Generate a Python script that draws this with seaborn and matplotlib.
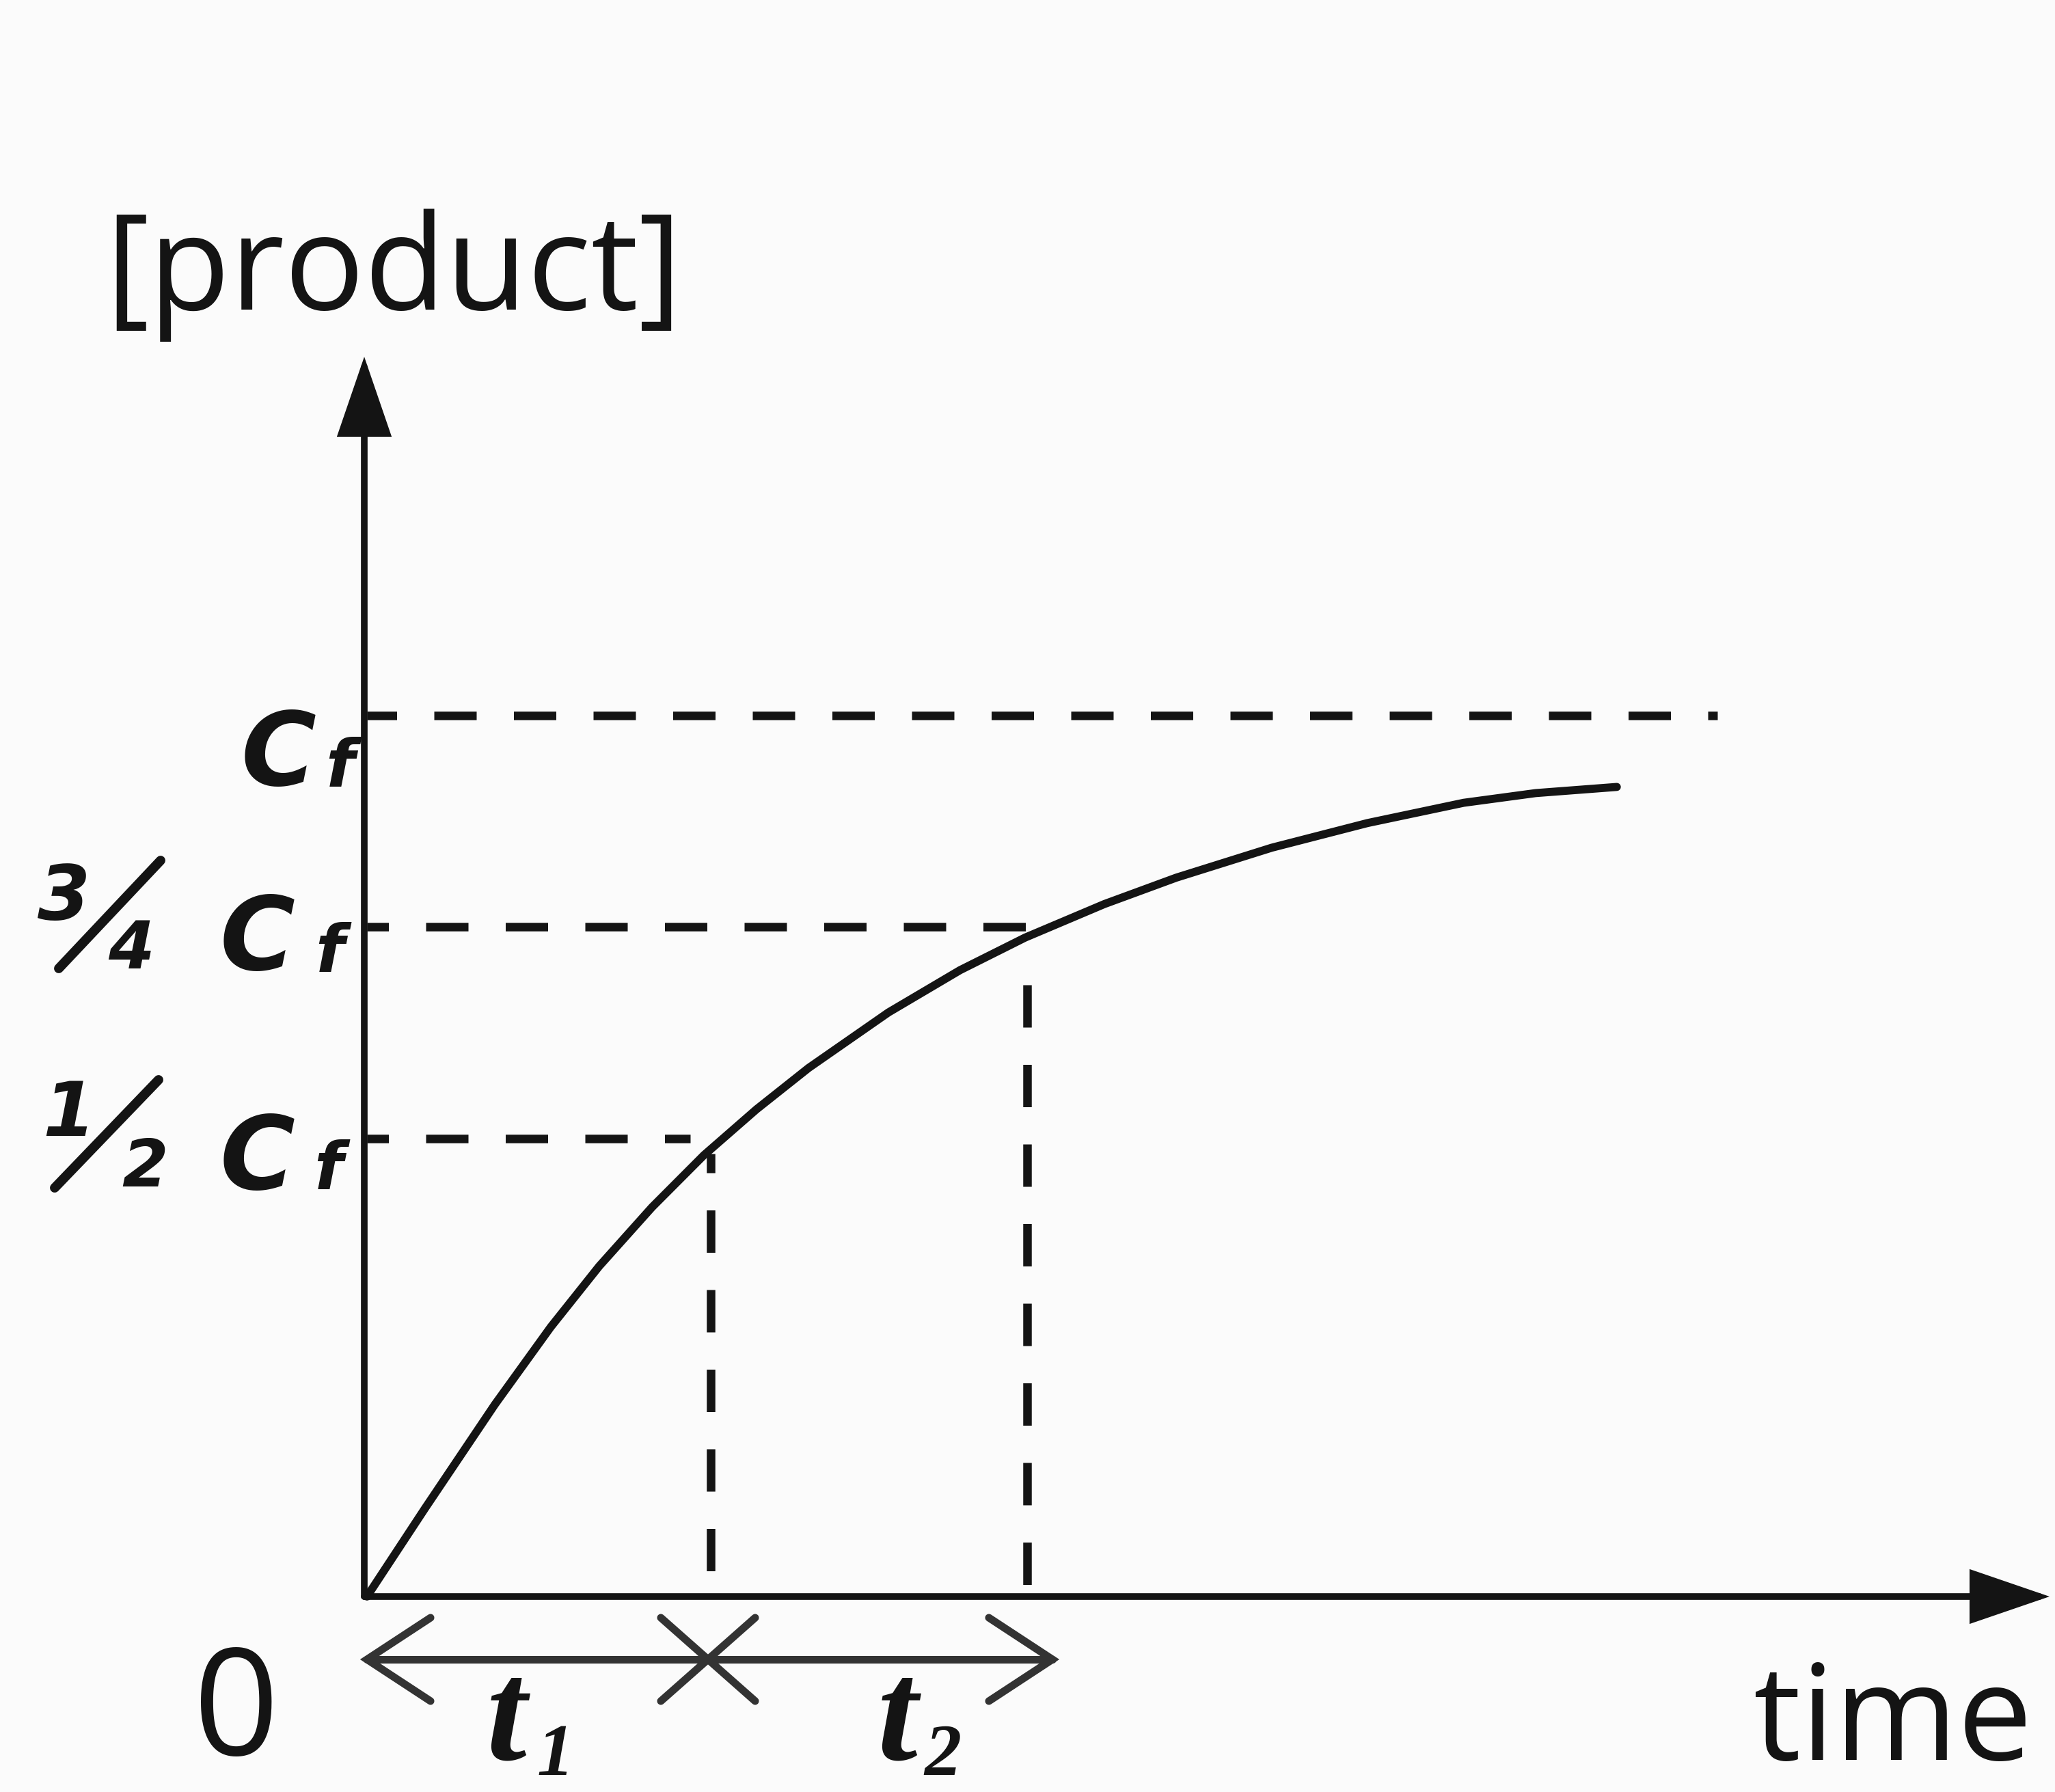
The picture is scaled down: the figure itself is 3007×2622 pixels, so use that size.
import numpy as np
import pandas as pd
import matplotlib
matplotlib.use("Agg")
import matplotlib.pyplot as plt
import matplotlib.transforms as mtransforms
import seaborn as sns

# ---------------- data ----------------
# time in units of the first half-life, [product] as a fraction of Cf
time_t = [0.0, 0.17, 0.375, 0.539, 0.681, 0.836, 0.988, 1.142, 1.295,
          1.529, 1.739, 1.930, 2.162, 2.373, 2.653, 2.934, 3.216, 3.427, 3.665]
product = [0.0, 0.100, 0.218, 0.306, 0.375, 0.442, 0.501, 0.553, 0.600,
           0.663, 0.711, 0.748, 0.786, 0.816, 0.850, 0.878, 0.901, 0.912, 0.919]

level_values = [1.0, 0.76, 0.52]          # Cf, 3/4 Cf, 1/2 Cf guides
level_dash_end = [3.96, 1.936, 0.948]     # where each horizontal guide stops
half_life_times = [1.008, 1.936]          # vertical guides (end of t1, end of t2)
half_life_dash_top = [0.503, 0.694]       # top of vertical guides
interval_ends = [0.0, 1.0, 2.01]          # double arrow: start, cross, end
interval_labels = [("t", "1"), ("t", "2")]

# ---------------- style / layout ----------------
sns.set_theme(style="white")
plt.rcParams["font.family"] = ["DejaVu Sans"]
plt.rcParams["lines.scale_dashes"] = False

W, H = 3007, 2622
X0, UX = 537, 499      # pixel of time 0 and pixels per time unit
Y0, UY = 2336, 1289    # pixel of product 0 and pixels per Cf
INK = "#141414"
GREY = "#333333"
BG = "#fbfbfb"
PT = 72 / 100          # points per pixel at dpi 100

fig = plt.figure(figsize=(W / 100, H / 100), dpi=100, facecolor=BG)
ax = fig.add_axes([0, 0, 1, 1])
ax.set_facecolor(BG)
ax.set_xlim(-X0 / UX, (W - X0) / UX)
ax.set_ylim((Y0 - H) / UY, Y0 / UY)
ax.axis("off")

# pixel transform (top-left origin) for annotation placement
PX = mtransforms.Affine2D().scale(1 / W, -1 / H).translate(0, 1) + fig.transFigure

# ---------------- dashed guides ----------------
DASH_ON, DASH_OFF = 62 * PT, 54.5 * PT
h_offsets = [18.5 * PT, 30.5 * PT, 30.5 * PT]
for lvl, end, off in zip(level_values, level_dash_end, h_offsets):
    ax.plot([0.0, end], [lvl, lvl], color=INK, lw=9,
            linestyle=(off, (DASH_ON, DASH_OFF)), dash_capstyle="butt")
v_offsets = [34 * PT, 0.0]
for t, top, off in zip(half_life_times, half_life_dash_top, v_offsets):
    ax.plot([t, t], [top, 0.0], color=INK, lw=9,
            linestyle=(off, (DASH_ON, DASH_OFF)), dash_capstyle="butt")

# ---------------- the curve ----------------
df = pd.DataFrame({"time": time_t, "product": product})
sns.lineplot(data=df, x="time", y="product", ax=ax, color=INK,
             linewidth=8.5, estimator=None, sort=True,
             solid_capstyle="round", solid_joinstyle="round", legend=False)

# ---------------- axes with arrows ----------------
arrow_kw = dict(arrowstyle="-|>,head_length=0.70,head_width=0.24",
                mutation_scale=100, lw=7, color=INK,
                shrinkA=0, shrinkB=0, joinstyle="miter")
ax.annotate("", xy=(-0.008, (Y0 - 522) / UY), xytext=(-0.008, 0),
            arrowprops=arrow_kw)
ax.annotate("", xy=((W - 8 - X0) / UX, 0), xytext=(-0.008, 0),
            arrowprops=arrow_kw)

# ---------------- double arrow with cross under the axis ----------------
y_arr = (Y0 - 2428) / UY
a0, am, a1 = interval_ends
lw_ar = 8
ax.plot([a0, a1], [y_arr, y_arr], color=GREY, lw=lw_ar, solid_capstyle="round")
cdx, cdy = 93 / UX, 61 / UY
ax.plot([a0 + cdx, a0, a0 + cdx], [y_arr + cdy, y_arr, y_arr - cdy],
        color=GREY, lw=lw_ar, solid_capstyle="round", solid_joinstyle="miter")
ax.plot([a1 - cdx, a1, a1 - cdx], [y_arr + cdy, y_arr, y_arr - cdy],
        color=GREY, lw=lw_ar, solid_capstyle="round", solid_joinstyle="miter")
xdx, xdy = 69 / UX, 61 / UY
ax.plot([am - xdx, am + xdx], [y_arr - xdy, y_arr + xdy], color=GREY,
        lw=lw_ar, solid_capstyle="round")
ax.plot([am - xdx, am + xdx], [y_arr + xdy, y_arr - xdy], color=GREY,
        lw=lw_ar, solid_capstyle="round")

# ---------------- text ----------------
sans = ["Open Sans", "DejaVu Sans"]
ax.text(576, 453, "[product]", transform=PX, ha="center", va="baseline",
        fontsize=140, family=sans, color=INK)
ax.text(2566, 2575, "time", transform=PX, ha="left", va="baseline",
        fontsize=140, family=sans, color=INK)
ax.text(346, 2568, "0", transform=PX, ha="center", va="baseline",
        fontsize=158, family=sans, color=INK)

# C_f labels
cf_pos = [((463, 1149), (476, 1151)),
          ((432, 1419), (461, 1422)),
          ((432, 1740), (459, 1740))]
for (cx, cy), (fx, fy) in cf_pos:
    ax.text(cx, cy, "C", transform=PX, ha="right", va="baseline",
            fontsize=108, fontweight="bold", fontstyle="italic", color=INK)
    ax.text(fx, fy, "f", transform=PX, ha="left", va="baseline",
            fontsize=70, fontweight="bold", fontstyle="italic", color=INK)

# fractions 3/4 and 1/2
frac_kw = dict(transform=PX, va="baseline", ha="left", fontweight="bold",
               fontstyle="italic", color=INK)
ax.text(55, 1345, "3", fontsize=80, **frac_kw)
ax.text(158, 1417, "4", fontsize=70, **frac_kw)
ax.plot([86, 235], [1417, 1259], transform=PX, color=INK, lw=10,
        solid_capstyle="round")
ax.text(62, 1662, "1", fontsize=80, **frac_kw)
ax.text(178, 1736, "2", fontsize=70, **frac_kw)
ax.plot([80, 232], [1738, 1580], transform=PX, color=INK, lw=10,
        solid_capstyle="round")

# t1, t2 interval labels
serif = ["Liberation Serif", "DejaVu Serif"]
t_pos = [((712, 2574), (785, 2597)), ((1284, 2574), (1352, 2597))]
for (main, sub), ((tx, ty), (sx, sy)) in zip(interval_labels, t_pos):
    ax.text(tx, ty, main, transform=PX, ha="left", va="baseline",
            fontsize=152, family=serif, fontweight="bold", fontstyle="italic",
            color=INK)
    ax.text(sx, sy, sub, transform=PX, ha="left", va="baseline",
            fontsize=78, family=serif, fontweight="bold", fontstyle="italic",
            color=INK)

fig.savefig("out.png", dpi=100, facecolor=BG)
